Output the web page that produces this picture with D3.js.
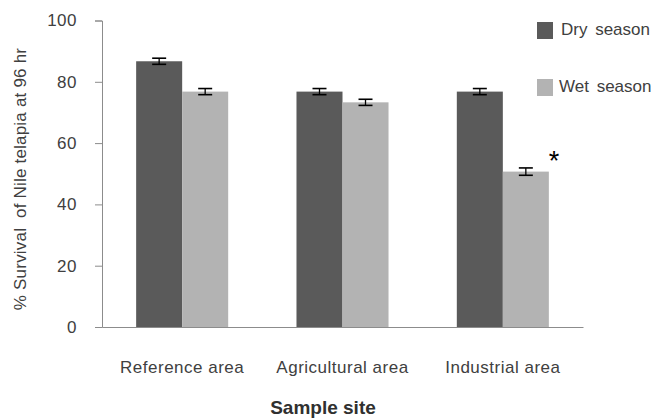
<!DOCTYPE html>
<meta charset="utf-8">
<script src="https://d3js.org/d3.v7.min.js"></script>
<style>
  body { margin: 0; background: #fff; }
  text { font-family: "Liberation Sans", Arial, sans-serif; fill: #404040; }
  .tick text { font-size: 17px; letter-spacing: 0.5px; }
  text.ytitle { font-size: 17px; letter-spacing: 0.2px; }
  text.xtitle { font-size: 19px; font-weight: bold; fill: #303030; }
  text.legend { font-size: 17px; word-spacing: 3px; }
</style>
<div id="chart"></div>
<script>
// data
var sites = ["Reference area", "Agricultural area", "Industrial area"];
var seasons = ["Dry season", "Wet season"];
var dryValues = [86.7, 76.8, 76.8];
var wetValues = [76.8, 73.3, 50.7];
var dryErr = [1.0, 1.0, 1.0];
var wetErr = [1.0, 1.0, 1.2];
var yTicks = [0, 20, 40, 60, 80, 100];
var colors = ["#5a5a5a", "#b3b3b3"];

var W = 657, H = 418;
var margin = {top: 20.5, right: 74, bottom: 91, left: 102};
var width = W - margin.left - margin.right,
    height = H - margin.top - margin.bottom;

var svg = d3.select("#chart").append("svg")
    .attr("width", W).attr("height", H);
var g = svg.append("g")
    .attr("transform", "translate(" + margin.left + "," + margin.top + ")");

var x0 = d3.scaleBand().domain(sites).range([0, width])
    .paddingInner(0.426).paddingOuter(0.213);
var x1 = d3.scaleBand().domain(seasons).range([0, x0.bandwidth()]);
var y = d3.scaleLinear().domain([0, 100]).range([height, 0]);

var rows = [];
sites.forEach(function(s, i) {
  rows.push({site: s, season: seasons[0], v: dryValues[i], e: dryErr[i]});
  rows.push({site: s, season: seasons[1], v: wetValues[i], e: wetErr[i]});
});

// y axis
var yAxis = g.append("g")
    .call(d3.axisLeft(y).tickValues(yTicks).tickSize(7).tickPadding(18));
yAxis.select(".domain").attr("stroke", "#8c8c8c");
yAxis.selectAll(".tick line").attr("stroke", "#8c8c8c");

// bars
g.selectAll("rect.bar").data(rows).enter().append("rect")
    .attr("class", "bar")
    .attr("x", function(d) { return x0(d.site) + x1(d.season); })
    .attr("y", function(d) { return y(d.v); })
    .attr("width", x1.bandwidth())
    .attr("height", function(d) { return height - y(d.v); })
    .attr("fill", function(d) { return colors[seasons.indexOf(d.season)]; });

// error bars
var eb = g.selectAll("g.err").data(rows).enter().append("g")
    .attr("class", "err")
    .attr("transform", function(d) {
      return "translate(" + (x0(d.site) + x1(d.season) + x1.bandwidth() / 2) + ",0)";
    });
eb.append("line")
    .attr("y1", function(d) { return y(d.v + d.e); })
    .attr("y2", function(d) { return y(d.v - d.e); })
    .attr("stroke", "#000").attr("stroke-width", 1.3);
eb.selectAll("line.cap").data(function(d) { return [d.v + d.e, d.v - d.e]; })
  .enter().append("line").attr("class", "cap")
    .attr("x1", -7).attr("x2", 7)
    .attr("y1", function(v) { return y(v); })
    .attr("y2", function(v) { return y(v); })
    .attr("stroke", "#000").attr("stroke-width", 1.6);

// x axis
var xAxis = g.append("g")
    .attr("transform", "translate(0," + height + ")")
    .call(d3.axisBottom(x0).tickSize(0).tickPadding(34));
xAxis.select(".domain").attr("stroke", "#8c8c8c");

// significance mark
g.append("text")
    .attr("x", x0(sites[2]) + x0.bandwidth())
    .attr("y", y(wetValues[2] + wetErr[2]) + 2)
    .style("font-size", "27px").style("fill", "#000")
    .text("*");

// titles
svg.append("text").attr("class", "ytitle")
    .attr("transform", "translate(26,179) rotate(-90)")
    .attr("text-anchor", "middle")
    .style("white-space", "pre")
    .text("% Survival  of Nile telapia at 96 hr");

svg.append("text").attr("class", "xtitle")
    .attr("x", 323)
    .attr("y", 414)
    .attr("text-anchor", "middle")
    .text("Sample site");

// legend
var legend = svg.append("g").attr("transform", "translate(537,22)");
seasons.forEach(function(s, i) {
  var lg = legend.append("g").attr("transform", "translate(0," + (i * 57) + ")");
  lg.append("rect").attr("width", 16).attr("height", 17).attr("fill", colors[i]);
  lg.append("text").attr("class", "legend")
      .attr("x", i === 0 ? 24 : 22).attr("y", 13)
      .text(s);
});
</script>
